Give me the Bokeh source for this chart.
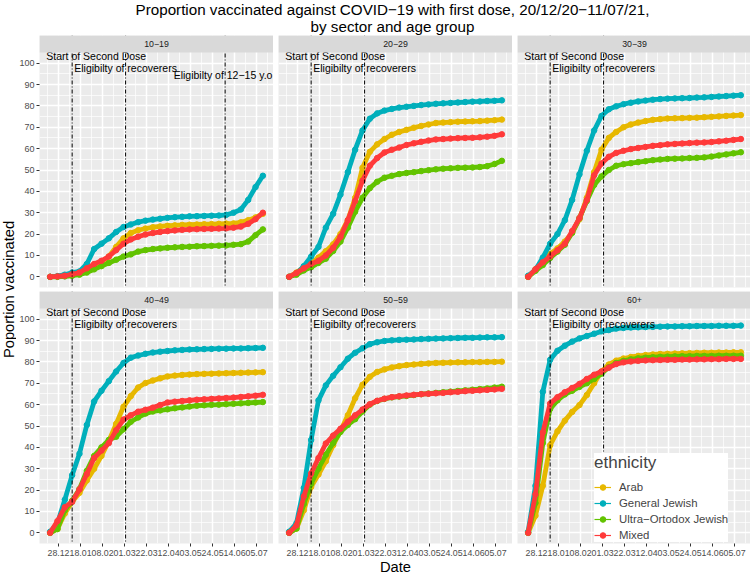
import math
import pandas as pd
from bokeh.plotting import figure
from bokeh.models import (Range1d, FixedTicker, Span, BoxAnnotation, Label, Legend,
                          LegendItem, ColumnDataSource)
from bokeh.layouts import row, column
from bokeh.embed import file_html
from bokeh.resources import INLINE
from bokeh.core.properties import value

FONT = "Liberation Sans"

# ---------------- texts ----------------
title_lines = ["Proportion vaccinated against COVID\u221219 with first dose, 20/12/20\u221211/07/21,",
               "by sector and age group"]
x_title = "Date"
y_title = "Poportion vaccinated"
legend_title = "ethnicity"

# ---------------- data ----------------
dates = ["2020-12-20", "2020-12-27", "2021-01-03", "2021-01-10", "2021-01-17", "2021-01-24",
         "2021-01-31", "2021-02-07", "2021-02-14", "2021-02-21", "2021-02-28", "2021-03-07",
         "2021-03-14", "2021-03-21", "2021-03-28", "2021-04-04", "2021-04-11", "2021-04-18",
         "2021-04-25", "2021-05-02", "2021-05-09", "2021-05-16", "2021-05-23", "2021-05-30",
         "2021-06-06", "2021-06-13", "2021-06-20", "2021-06-27", "2021-07-04", "2021-07-11"]

age_groups = ["10\u221219", "20\u221229", "30\u221239", "40\u221249", "50\u221259", "60+"]
ethnicities = ["Arab", "General Jewish", "Ultra\u2212Ortodox Jewish", "Mixed"]
colors = ["#E7B800", "#00AFBB", "#62C300", "#FF3A3A"]

arab_10_19 = [0, 0.2, 0.5, 1, 1.5, 3, 5, 7, 9.5, 14, 18, 20.5, 21.8, 22.6, 23.2, 23.6, 23.9, 24.1,
              24.3, 24.4, 24.5, 24.6, 24.7, 24.8, 24.9, 25, 25.5, 26.5, 27.8, 29.5]
gj_10_19 = [0, 0.3, 1, 2, 2.5, 6, 13, 15.5, 18, 21, 23.3, 24.5, 25.6, 26.3, 26.8, 27.2, 27.6, 27.9,
            28.1, 28.3, 28.4, 28.5, 28.6, 28.7, 29, 30, 31.5, 36, 42, 47.3]
uo_10_19 = [0, 0, 0.2, 0.5, 1, 2, 3.5, 5, 6.5, 8, 9.5, 10.5, 11.8, 12.5, 13, 13.3, 13.6, 13.8, 14,
            14.1, 14.3, 14.4, 14.5, 14.6, 14.7, 15, 15.3, 16.5, 19.5, 22.2]
mixed_10_19 = [0, 0.2, 0.5, 1.2, 2, 4, 6, 7.5, 9.5, 12.5, 15.5, 17.5, 18.8, 19.8, 20.5, 21, 21.4,
               21.7, 22, 22.2, 22.3, 22.4, 22.5, 22.6, 22.7, 23, 23.5, 24.8, 27, 30]

arab_20_29 = [0, 2, 4.5, 6.5, 9, 12, 15.2, 20, 26.5, 37, 51, 58.5, 62, 64.5, 66.5, 67.8, 68.8, 69.8,
              70.6, 71.3, 72, 72.2, 72.4, 72.6, 72.7, 72.8, 72.9, 73.1, 73.3, 73.6]
gj_20_29 = [0, 1.5, 5, 9.5, 14, 23, 29.5, 38.5, 49, 59.5, 68.5, 74, 76.5, 77.8, 78.6, 79.2, 79.6, 80,
            80.4, 80.7, 81, 81.2, 81.4, 81.6, 81.8, 82, 82.1, 82.3, 82.4, 82.6]
uo_20_29 = [0, 1, 3, 4.5, 6.5, 8.5, 12.1, 16.5, 23, 30.5, 37, 41.5, 44.5, 46.4, 47.3, 48.1, 48.6, 49,
            49.5, 49.9, 50.3, 50.6, 50.8, 51, 51.1, 51.2, 51.4, 51.8, 52.8, 54.3]
mixed_20_29 = [0, 1.8, 4, 6, 7.5, 10, 13.6, 18.7, 26.5, 35.5, 45, 52, 55.6, 58.2, 59.5, 60.5, 61.7,
               62.5, 63.2, 63.8, 64.3, 64.5, 64.7, 64.9, 65, 65.1, 65.3, 65.6, 66, 66.7]

arab_30_39 = [0, 3.5, 7.5, 10.7, 13.3, 16.5, 20.6, 27, 37, 49, 59.5, 65, 67.8, 70, 71.3, 72.2, 72.9,
              73.5, 73.8, 74.1, 74.2, 74.3, 74.4, 74.5, 74.7, 74.9, 75.1, 75.3, 75.5, 75.7]
gj_30_39 = [0.5, 3.3, 9, 15.5, 20, 26.5, 36, 48, 59, 68.5, 75.3, 78.4, 79.8, 80.8, 81.5, 82.1, 82.5,
            82.9, 83.2, 83.4, 83.5, 83.6, 83.7, 83.9, 84, 84.2, 84.4, 84.6, 84.8, 85]
uo_30_39 = [0, 2.8, 5.5, 8.8, 11.8, 15, 20.6, 27.5, 35.5, 43, 47, 50, 52, 52.7, 53.2, 53.7, 54.1,
            54.6, 54.9, 55.2, 55.3, 55.4, 55.6, 55.7, 55.9, 56.3, 56.8, 57.3, 57.8, 58.3]
mixed_30_39 = [0, 3.5, 6.8, 9.6, 12.4, 15.5, 21.4, 27.5, 36, 47.5, 53, 56.2, 58, 59, 59.8, 60.3,
               60.8, 61.3, 61.6, 62, 62.2, 62.4, 62.6, 62.8, 62.9, 63.1, 63.4, 63.7, 64.1, 64.5]

arab_40_49 = [0, 1.8, 9, 14.5, 18.7, 24.5, 30, 36, 43, 51, 59, 64, 68, 70.1, 71.3, 72.3, 73.2, 73.6,
              73.9, 74.1, 74.3, 74.4, 74.5, 74.6, 74.7, 74.8, 74.9, 75, 75.1, 75.2]
gj_40_49 = [0.5, 4.5, 15.5, 27, 37, 50.5, 61.5, 66.5, 71, 75.5, 79.5, 82, 83, 83.8, 84.4, 84.8, 85.1,
            85.4, 85.6, 85.8, 85.9, 86, 86.1, 86.2, 86.2, 86.3, 86.3, 86.4, 86.5, 86.6]
uo_40_49 = [0, 1.8, 10.5, 15, 20.5, 29, 36, 40, 43.5, 45, 48.5, 52, 54, 55.8, 56.8, 57.3, 57.8, 58.3,
            58.7, 59.1, 59.5, 59.7, 59.9, 60, 60.2, 60.4, 60.6, 60.8, 61, 61.2]
mixed_40_49 = [0, 5.5, 12, 14.5, 20.3, 27.5, 35, 38.5, 42, 48, 53, 55, 56.7, 57.6, 58.6, 59.8, 61,
               61.4, 61.7, 62, 62.3, 62.5, 62.7, 62.9, 63.1, 63.3, 63.6, 63.9, 64.2, 64.6]

arab_50_59 = [0, 2, 10.5, 21.5, 27.3, 33.5, 41, 47.7, 55, 63, 69.3, 73, 75.3, 76.5, 77.4, 78, 78.5,
              78.8, 79.1, 79.3, 79.5, 79.6, 79.7, 79.8, 79.8, 79.9, 79.9, 80, 80, 80.1]
gj_50_59 = [0.5, 4.5, 21, 43.5, 62, 69, 73.5, 77.5, 81.5, 84.3, 86.4, 88.3, 89.2, 89.8, 90.1, 90.3,
            90.4, 90.5, 90.7, 90.8, 90.9, 91, 91.1, 91.2, 91.3, 91.3, 91.4, 91.5, 91.5, 91.6]
uo_50_59 = [0, 2, 13.5, 23, 30, 36.5, 42, 47.2, 50.5, 53.2, 56.8, 60, 61.7, 62.7, 63.4, 63.8, 64.1,
            64.5, 64.9, 65.2, 65.5, 65.8, 66.1, 66.4, 66.7, 67, 67.3, 67.6, 68, 68.4]
mixed_50_59 = [0, 3.5, 17, 27.8, 35, 41.8, 45.5, 48.7, 52, 55, 57.7, 60.2, 61.8, 62.8, 63.5, 63.9,
               64.3, 64.6, 64.9, 65.1, 65.3, 65.5, 65.8, 66, 66.3, 66.5, 66.7, 66.9, 67.1, 67.4]

arab_60 = [0, 8, 22, 41, 47.5, 52.5, 56.6, 59.8, 64.5, 70, 75.5, 78.8, 80.6, 81.6, 82.3, 82.8, 83.2,
           83.5, 83.7, 83.8, 83.9, 84, 84.1, 84.2, 84.3, 84.3, 84.4, 84.4, 84.5, 84.5]
gj_60 = [0.5, 22, 66, 81, 85.2, 87.6, 89.5, 91, 92.1, 93.2, 94.3, 94.9, 95.6, 95.9, 96.1, 96.2, 96.3,
         96.4, 96.5, 96.6, 96.6, 96.7, 96.7, 96.8, 96.8, 96.8, 96.9, 96.9, 96.9, 97]
uo_60 = [0, 14, 42, 58, 62, 64.8, 66.5, 68.3, 70, 72, 74.5, 77.5, 79.5, 80.5, 81.2, 81.7, 82, 82.2,
         82.4, 82.5, 82.6, 82.7, 82.7, 82.8, 82.8, 82.8, 82.9, 82.9, 82.9, 82.9]
mixed_60 = [0, 18, 47, 60.5, 63.5, 65.8, 67.8, 69.7, 72, 74, 75.5, 77.3, 79, 79.8, 80.2, 80.5, 80.7,
            80.8, 80.9, 81, 81, 81.1, 81.1, 81.2, 81.2, 81.3, 81.3, 81.4, 81.4, 81.4]

panel_series = [
    [arab_10_19, gj_10_19, uo_10_19, mixed_10_19],
    [arab_20_29, gj_20_29, uo_20_29, mixed_20_29],
    [arab_30_39, gj_30_39, uo_30_39, mixed_30_39],
    [arab_40_49, gj_40_49, uo_40_49, mixed_40_49],
    [arab_50_59, gj_50_59, uo_50_59, mixed_50_59],
    [arab_60, gj_60, uo_60, mixed_60],
]

x_tick_dates = ["2020-12-28", "2021-01-18", "2021-02-08", "2021-03-01", "2021-03-22",
                "2021-04-12", "2021-05-03", "2021-05-24", "2021-06-14", "2021-07-05"]
x_tick_labels = ["28.12", "18.01", "08.02", "01.03", "22.03", "12.04", "03.05", "24.05", "14.06", "05.07"]
y_ticks = [0, 10, 20, 30, 40, 50, 60, 70, 80, 90, 100]

event_dates = ["2021-01-10", "2021-03-02", "2021-06-05"]
event_labels = ["Start of Second Dose", "Eligibilty of recoverers", "Eligibilty of 12\u221215 y.o"]
event_label_dates = ["2021-02-02", "2021-03-02", "2021-06-03"]
event_label_y = [103.2, 97.8, 94.3]
events_in_panel = [3, 2, 2, 2, 2, 2]

# ---------------- layout constants ----------------
TITLE_H = 35
YLAB_W = 16
PW = 234      # panel width (px)
PH = 235      # panel height (px)
SH = 17       # strip height (px)
GAP = 4
Y0, Y1 = -5, 105
strip_units = SH * (Y1 - Y0) / PH
YTOP = Y1 + strip_units


def ms(s):
    return pd.Timestamp(s).value / 1e6


xd = pd.to_datetime(dates)
x0, x1 = ms(dates[0]), ms(dates[-1])
xpad = (x1 - x0) * 0.05
XR = (x0 - xpad, x1 + xpad)
xt = [ms(s) for s in x_tick_dates]
step = xt[1] - xt[0]
x_minor = [xt[0] - step / 2] + [(a + b) / 2 for a, b in zip(xt[:-1], xt[1:])] + [xt[-1] + step / 2]
y_minor = [v + 5 for v in y_ticks[:-1]]

panels = []
legend_renderers = None
for i, age in enumerate(age_groups):
    r, c = divmod(i, 3)
    p = figure(x_axis_type="datetime", x_range=Range1d(*XR), y_range=Range1d(Y0, YTOP),
               frame_width=PW, frame_height=PH + SH, output_backend="svg", toolbar_location=None,
               background_fill_color="#EBEBEB", border_fill_color="white", outline_line_color=None,
               min_border_left=20 if c == 0 else 5, min_border_right=2 if c == 2 else 0,
               min_border_top=0, min_border_bottom=GAP if r == 0 else 0)
    xticker = FixedTicker(ticks=xt, minor_ticks=x_minor)
    yticker = FixedTicker(ticks=y_ticks, minor_ticks=y_minor)
    p.xaxis.ticker = xticker
    p.yaxis.ticker = yticker
    p.xgrid.ticker = xticker
    p.ygrid.ticker = yticker
    p.grid.grid_line_color = "white"
    p.grid.grid_line_width = 1.5
    p.grid.minor_grid_line_color = "white"
    p.grid.minor_grid_line_width = 0.7
    for ax in p.axis:
        ax.axis_line_color = None
        ax.major_tick_line_color = "#333333"
        ax.major_tick_out = 3
        ax.major_tick_in = 0
        ax.minor_tick_line_color = None
        ax.major_label_text_font = FONT
        ax.major_label_text_color = "#4D4D4D"
    p.yaxis.major_label_text_font_size = "9px"
    p.yaxis.major_label_standoff = 1
    p.xaxis.major_label_text_font_size = "8.8px"
    p.xaxis.major_label_standoff = 2
    p.xaxis.major_label_overrides = {t: l for t, l in zip(xt, x_tick_labels)}
    if r == 0:
        p.xaxis.visible = False
    if c > 0:
        p.yaxis.visible = False
    if i == 4:
        p.xaxis.axis_label = x_title
        p.xaxis.axis_label_text_font = FONT
        p.xaxis.axis_label_text_font_size = "14.7px"
        p.xaxis.axis_label_text_font_style = "normal"
        p.xaxis.axis_label_text_color = "black"
        p.xaxis.axis_label_standoff = 0

    rends = []
    for k in range(4):
        src = ColumnDataSource(dict(x=xd, y=panel_series[i][k]))
        p.line("x", "y", source=src, line_width=4.8, line_color=colors[k],
               line_join="round", line_cap="round")
        ln = p.line("x", "y", source=src, line_width=1.2, line_color=colors[k])
        sc = p.scatter("x", "y", source=src, size=5.5, fill_color=colors[k], line_color=colors[k])
        rends.append([ln, sc])
    if i == 5:
        legend_renderers = rends

    n = events_in_panel[i]
    for j in range(n):
        p.add_layout(Span(location=ms(event_dates[j]), dimension="height", line_color="black",
                          line_width=1, line_dash="4 2 1 2"))
    p.text(x=pd.to_datetime(event_label_dates[:n]), y=event_label_y[:n], text=event_labels[:n],
           text_font=value(FONT), text_font_size="10.5px", text_align="center",
           text_baseline="middle", text_color="black")

    p.add_layout(BoxAnnotation(bottom=Y1, fill_color="#D9D9D9", fill_alpha=1.0, line_color=None))
    p.add_layout(Label(x=(XR[0] + XR[1]) / 2, y=Y1 + strip_units / 2, text=age,
                       text_align="center", text_baseline="middle", text_font=FONT,
                       text_font_size="8.8px", text_color="#1A1A1A"))
    panels.append(p)

legend = Legend(items=[LegendItem(label=ethnicities[k], renderers=legend_renderers[k]) for k in range(4)],
                location=(77, 1), title=legend_title, title_text_font=FONT,
                title_text_font_size="17px", title_text_font_style="normal",
                label_text_font=FONT, label_text_font_size="11.4px", glyph_width=17,
                glyph_height=14, label_height=14, spacing=2, padding=6, margin=0,
                label_standoff=8, title_standoff=7, background_fill_color="white",
                background_fill_alpha=1.0, border_line_color=None)
panels[5].add_layout(legend)

# title figure
TOTAL_W = YLAB_W + (20 + PW) + (5 + PW) + (5 + PW + 2)
tf = figure(frame_width=TOTAL_W, frame_height=TITLE_H, x_range=Range1d(0, TOTAL_W),
            y_range=Range1d(0, TITLE_H), output_backend="svg", toolbar_location=None,
            min_border=0, outline_line_color=None)
tf.axis.visible = False
tf.grid.visible = False
title_cx = YLAB_W + 20 + (3 * PW + 10) / 2
tf.text(x=[title_cx, title_cx], y=[TITLE_H - 8.7, TITLE_H - 25.5], text=title_lines,
        text_font=value(FONT), text_font_size="15.2px", text_align="center",
        text_baseline="middle", text_color="black")

# y-axis title figure
grid_h = 2 * (PH + SH) + GAP
yf = figure(frame_width=YLAB_W, frame_height=grid_h, x_range=Range1d(0, YLAB_W),
            y_range=Range1d(0, grid_h), output_backend="svg", toolbar_location=None,
            min_border=0, outline_line_color=None)
yf.axis.visible = False
yf.grid.visible = False
yf.text(x=[YLAB_W / 2], y=[grid_h / 2], text=[y_title], angle=math.pi / 2, text_font=value(FONT),
        text_font_size="14.7px", text_align="center", text_baseline="middle", text_color="black")

layout = column(tf, row(yf, column(row(panels[0], panels[1], panels[2]),
                                   row(panels[3], panels[4], panels[5]))))

open("out.html", "w").write(file_html(layout, INLINE))
